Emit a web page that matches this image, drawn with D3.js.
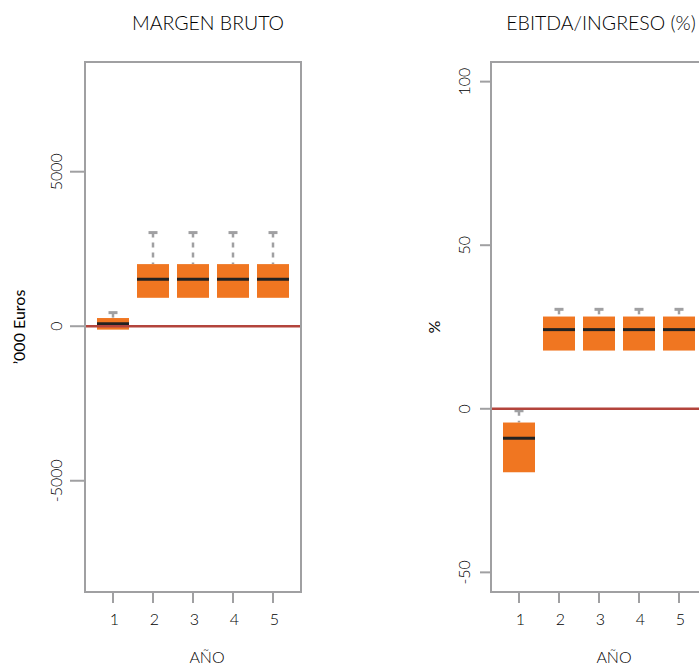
<!DOCTYPE html>
<html>
<head>
<meta charset="utf-8">
<script src="https://cdn.jsdelivr.net/npm/d3@7"></script>
<style>
  html, body { margin: 0; padding: 0; background: #fff; }
  svg { display: block; }
  text { font-family: Lato, "Open Sans", sans-serif; font-weight: 300; fill: #000; }
</style>
</head>
<body>
<svg id="chart" width="699" height="668"></svg>
<script>
// Years on the horizontal axis
const years = [1, 2, 3, 4, 5];

// Gross margin ('000 Euros): box-plot summaries per year
const margenLow    = [-110, 920, 920, 920, 920];
const margenQ1     = [-110, 920, 920, 920, 920];
const margenMedian = [80, 1520, 1520, 1520, 1520];
const margenQ3     = [265, 2010, 2010, 2010, 2010];
const margenHigh   = [440, 3030, 3030, 3030, 3030];
const margenTicks  = [-5000, 0, 5000];

// EBITDA over revenue (%): box-plot summaries per year
const ebitdaLow    = [-19.4, 17.8, 17.8, 17.8, 17.8];
const ebitdaQ1     = [-19.4, 17.8, 17.8, 17.8, 17.8];
const ebitdaMedian = [-9.0, 24.2, 24.2, 24.2, 24.2];
const ebitdaQ3     = [-4.2, 28.2, 28.2, 28.2, 28.2];
const ebitdaHigh   = [-0.6, 30.4, 30.4, 30.4, 30.4];
const ebitdaTicks  = [-50, 0, 50, 100];

const svg = d3.select("#chart");

const BOX_FILL = "#f07621";
const GREY = "#a0a0a2";
const ZERO_LINE = "#b3443c";

const panels = [
  {
    title: "MARGEN BRUTO", ylabel: "\u2019000 Euros",
    left: 85, right: 301, top: 62, bottom: 592,
    domain: [-8600, 8550], ticks: margenTicks,
    low: margenLow, q1: margenQ1, med: margenMedian, q3: margenQ3, high: margenHigh,
    titleX: 208, ylabelX: 25, tickLabelX: 62, tickStart: 70, xTitleX: 207
  },
  {
    title: "EBITDA/INGRESO (%)", ylabel: "%",
    left: 491, right: 707, top: 62, bottom: 592,
    domain: [-56, 106], ticks: ebitdaTicks,
    low: ebitdaLow, q1: ebitdaQ1, med: ebitdaMedian, q3: ebitdaQ3, high: ebitdaHigh,
    titleX: 601, ylabelX: 440, tickLabelX: 470, tickStart: 480, xTitleX: 614
  }
];

panels.forEach(p => {
  const g = svg.append("g");
  const x = d3.scaleLinear().domain([0.3, 5.7]).range([p.left, p.right]);
  const y = d3.scaleLinear().domain(p.domain).range([p.bottom, p.top]);
  const boxW = x(1.8) - x(1);   // box width of 0.8 units
  const capW = 9;

  // Title
  g.append("text")
    .attr("x", p.titleX).attr("y", 30)
    .attr("text-anchor", "middle")
    .style("font-size", "19.5px")
    .text(p.title);

  // Y-axis label
  g.append("text")
    .attr("transform", `translate(${p.ylabelX},${(p.top + p.bottom) / 2}) rotate(-90)`)
    .attr("text-anchor", "middle")
    .style("font-size", "16px")
    .style("font-weight", "400")
    .text(p.ylabel);

  // Y ticks and labels
  p.ticks.forEach(t => {
    g.append("line")
      .attr("x1", p.tickStart).attr("x2", p.left)
      .attr("y1", y(t)).attr("y2", y(t))
      .attr("stroke", GREY).attr("stroke-width", 2);
    g.append("text")
      .attr("transform", `translate(${p.tickLabelX},${y(t)}) rotate(-90)`)
      .attr("text-anchor", "middle")
      .style("font-size", "16px")
      .text(t);
  });

  // X ticks and labels
  years.forEach(v => {
    g.append("line")
      .attr("x1", x(v)).attr("x2", x(v))
      .attr("y1", p.bottom).attr("y2", p.bottom + 11)
      .attr("stroke", GREY).attr("stroke-width", 2);
    g.append("text")
      .attr("x", x(v) + 1.5).attr("y", 625)
      .attr("text-anchor", "middle")
      .style("font-size", "16px")
      .text(v);
  });

  // X-axis title
  g.append("text")
    .attr("x", p.xTitleX).attr("y", 663)
    .attr("text-anchor", "middle")
    .style("font-size", "16px")
    .text("AÑO");

  // Whiskers and staples
  years.forEach((v, i) => {
    const cx = x(v);
    const drawWhisker = (from, to) => {
      g.append("line")
        .attr("x1", cx).attr("x2", cx)
        .attr("y1", y(to)).attr("y2", y(from))
        .attr("stroke", GREY).attr("stroke-width", 2.5)
        .attr("stroke-dasharray", "5,5");
      g.append("line")
        .attr("x1", cx - capW / 2).attr("x2", cx + capW / 2)
        .attr("y1", y(to)).attr("y2", y(to))
        .attr("stroke", GREY).attr("stroke-width", 3);
    };
    if (p.high[i] > p.q3[i]) drawWhisker(p.q3[i], p.high[i]);
    if (p.low[i] < p.q1[i]) drawWhisker(p.q1[i], p.low[i]);
  });

  // Boxes
  years.forEach((v, i) => {
    const cx = x(v);
    g.append("rect")
      .attr("x", cx - boxW / 2).attr("width", boxW)
      .attr("y", y(p.q3[i])).attr("height", y(p.q1[i]) - y(p.q3[i]))
      .attr("fill", BOX_FILL);
    g.append("line")
      .attr("x1", cx - boxW / 2).attr("x2", cx + boxW / 2)
      .attr("y1", y(p.med[i])).attr("y2", y(p.med[i]))
      .attr("stroke", "#222").attr("stroke-width", 3);
  });

  // Zero reference line
  g.append("line")
    .attr("x1", p.left).attr("x2", p.right)
    .attr("y1", y(0)).attr("y2", y(0))
    .attr("stroke", ZERO_LINE).attr("stroke-width", 2.4);

  // Plot frame
  g.append("rect")
    .attr("x", p.left).attr("y", p.top)
    .attr("width", p.right - p.left).attr("height", p.bottom - p.top)
    .attr("fill", "none")
    .attr("stroke", GREY).attr("stroke-width", 2);
});
</script>
</body>
</html>
